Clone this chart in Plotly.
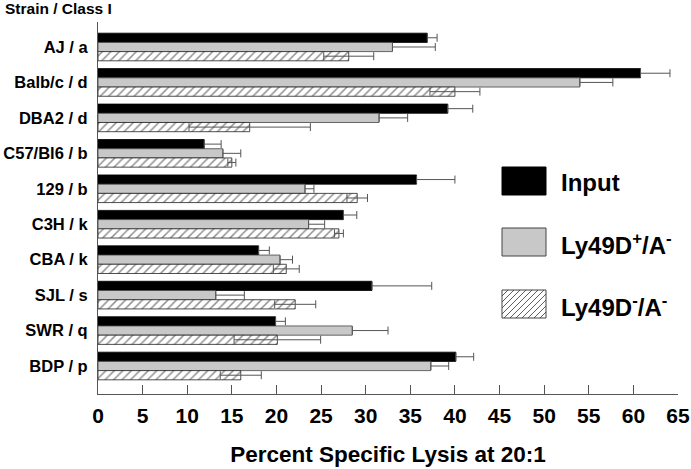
import plotly.graph_objects as go

# Strain / class I haplotype, top to bottom
strains = ["AJ / a", "Balb/c / d", "DBA2 / d", "C57/Bl6 / b", "129 / b",
           "C3H / k", "CBA / k", "SJL / s", "SWR / q", "BDP / p"]

# Percent specific lysis at 20:1 and error bar sizes
input_lysis = [36.9, 60.8, 39.2, 11.9, 35.7, 27.5, 18.0, 30.7, 19.9, 40.1]
input_err = [1.1, 3.3, 2.8, 1.9, 4.3, 1.5, 1.2, 6.7, 1.1, 2.0]
pos_lysis = [33.0, 54.0, 31.5, 14.0, 23.2, 23.6, 20.4, 13.2, 28.5, 37.3]
pos_err = [4.8, 3.7, 3.2, 2.0, 1.0, 1.8, 1.4, 3.2, 4.0, 2.0]
neg_lysis = [28.1, 40.0, 17.0, 15.0, 29.05, 27.0, 21.1, 22.1, 20.1, 16.0]
neg_err = [2.8, 2.8, 6.8, 0.45, 1.15, 0.5, 1.45, 2.3, 4.85, 2.3]

x_ticks = list(range(0, 70, 5))

font_family = "Liberation Sans, Arial, sans-serif"
axis_color = "#555555"
gray_fill = "#c8c8c8"

# plot area in pixels (691x469 page)
left, right, top, bottom = 98, 13, 22, 75
width, height = 691, 469
plot_w = width - left - right
plot_h = height - top - bottom


def px_to_paper(px, py):
    return (px - left) / plot_w, (height - bottom - py) / plot_h


def err_bar(values, symmetric):
    zeros = [0] * len(values)
    return dict(
        type="data",
        array=values,
        arrayminus=values if symmetric else zeros,
        symmetric=symmetric,
        color=axis_color,
        thickness=1,
        width=4,
    )


fig = go.Figure()

fig.add_trace(go.Bar(
    y=strains, x=input_lysis, orientation="h", name="Input",
    marker=dict(color="black", line=dict(color="black", width=0.8)),
    error_x=err_bar(input_err, False),
))
fig.add_trace(go.Bar(
    y=strains, x=pos_lysis, orientation="h", name="Ly49D+/A-",
    marker=dict(color=gray_fill, line=dict(color="#444444", width=0.8)),
    error_x=err_bar(pos_err, False),
))
fig.add_trace(go.Bar(
    y=strains, x=neg_lysis, orientation="h", name="Ly49D-/A-",
    marker=dict(
        color="white",
        line=dict(color="#222222", width=0.8),
        pattern=dict(shape="/", size=6, solidity=0.25,
                     fgcolor="#222222", bgcolor="white"),
    ),
    error_x=err_bar(neg_err, True),
))


# legend drawn by hand: big swatches with text beside them
def hatch_path(x0, y0, x1, y1, step=6):
    h = y1 - y0
    parts = []
    c = x0 - h
    while c < x1:
        tmin = max(0, x0 - c)
        tmax = min(h, x1 - c)
        if tmin < tmax:
            ax, ay = px_to_paper(c + tmin, y1 - tmin)
            bx, by = px_to_paper(c + tmax, y1 - tmax)
            parts.append(f"M{ax:.4f},{ay:.4f} L{bx:.4f},{by:.4f}")
        c += step
    return " ".join(parts)


shapes = []
annotations = []
legend_items = [
    ("Input", "black", "black", 167),
    ("Ly49D<sup>+</sup>/A<sup>-</sup>", gray_fill, "#444444", 228),
    ("Ly49D<sup>-</sup>/A<sup>-</sup>", "white", "#444444", 290),
]
for label, fill, edge, y_top in legend_items:
    bx0, by0, bx1, by1 = 502, y_top, 546, y_top + 28
    xa, ya = px_to_paper(bx0, by1)
    xb, yb = px_to_paper(bx1, by0)
    shapes.append(dict(type="rect", xref="paper", yref="paper",
                       x0=xa, y0=ya, x1=xb, y1=yb,
                       fillcolor=fill, line=dict(color=edge, width=1)))
    if fill == "white":
        shapes.append(dict(type="path", xref="paper", yref="paper",
                           path=hatch_path(bx0, by0, bx1, by1),
                           line=dict(color="#333333", width=0.8)))
    tx, ty = px_to_paper(559, y_top + 16)
    annotations.append(dict(
        x=tx, y=ty, xref="paper", yref="paper", text=label,
        showarrow=False, xanchor="left", yanchor="middle",
        font=dict(family=font_family, size=24, color="black", weight="bold"),
    ))

# "Strain / Class I" header above the labels
hx, hy = px_to_paper(3, 8)
annotations.append(dict(
    x=hx, y=hy, xref="paper", yref="paper", text="Strain / Class I",
    showarrow=False, xanchor="left", yanchor="middle",
    font=dict(family=font_family, size=15.5, color="black", weight="bold"),
))

fig.update_layout(
    width=width, height=height,
    margin=dict(l=left, r=right, t=top, b=bottom),
    paper_bgcolor="white",
    plot_bgcolor="white",
    barmode="group",
    bargap=0.22,
    bargroupgap=0,
    showlegend=False,
    font=dict(family=font_family, color="black"),
    shapes=shapes,
    annotations=annotations,
)

fig.update_xaxes(
    range=[0, 65],
    tickvals=x_ticks,
    ticks="inside", ticklen=9, tickcolor=axis_color, tickwidth=1,
    showline=True, linecolor=axis_color, linewidth=1,
    showgrid=False, zeroline=False,
    tickfont=dict(family=font_family, size=21, color="black", weight="bold"),
    ticklabelstandoff=3,
    title=dict(text="Percent Specific Lysis at 20:1", standoff=20,
               font=dict(family=font_family, size=22.5, color="black", weight="bold")),
    automargin=False,
)
fig.update_yaxes(
    categoryorder="array", categoryarray=strains,
    range=[9.79, -0.705],
    ticks="", showline=True, linecolor=axis_color, linewidth=1,
    showgrid=False, zeroline=False,
    tickfont=dict(family=font_family, size=16.5, color="black", weight="bold"),
    ticklabelstandoff=6,
    automargin=False,
)

# page body margin would push the fixed-size figure off the window
fig.write_html("out.html", config={"displayModeBar": False},
               post_script="document.body.style.margin='0';")
